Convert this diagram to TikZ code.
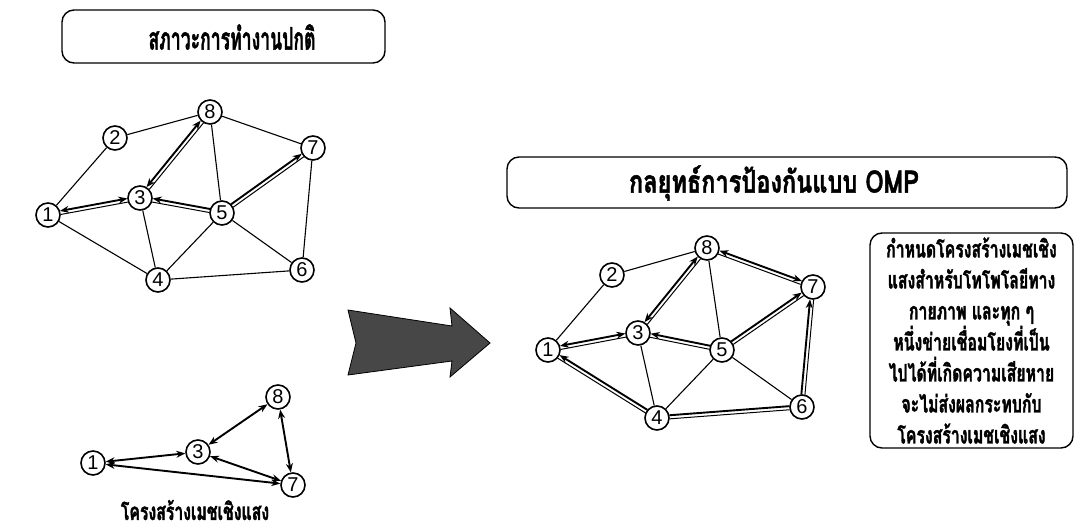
\documentclass[tikz,border=0pt]{standalone}
\usepackage{fontspec}
\setmainfont{Liberation Sans}
\newfontfamily\thai[Script=Thai,FakeBold=1.6]{Loma}
\newfontfamily\thain[Script=Thai,FakeStretch=0.66,FakeBold=1.4]{Loma}
\usetikzlibrary{arrows.meta,calc}
\newcommand\dedge[3][]{%
  \draw[line width=1.9pt,shorten <=12.5pt,shorten >=12.5pt,#1] ($(#2)!1.8pt!90:(#3)$) -- ($(#3)!1.8pt!-90:(#2)$);
  \draw[line width=1pt,shorten <=12.5pt,shorten >=12.5pt] ($(#2)!1.8pt!-90:(#3)$) -- ($(#3)!1.8pt!90:(#2)$);}
\begin{document}
\begin{tikzpicture}[x=1pt,y=-1pt,
  >={Stealth[length=9pt,width=7pt]},
  nd/.style={circle,draw,line width=1.6pt,fill=white,minimum size=24pt,inner sep=0pt,font=\fontsize{20}{20}\selectfont},
  ln/.style={line width=1.1pt},
  tk/.style={line width=1.9pt,<->},
  tbox/.style={draw,rounded corners=12pt,line width=1.4pt},
  ttl/.style={font=\thai\bfseries\fontsize{31}{32}\selectfont,inner sep=0pt},
  ttext/.style={font=\thain\bfseries\fontsize{24}{31}\selectfont,align=center}
]
\useasboundingbox[fill=white] (0,0) rectangle (1076,530);

% titles
\node[tbox,minimum width=323pt,minimum height=53pt] (t1) at (223.5,36.5) {};
\node[ttl] (t1t) at (232,37) {\resizebox{167pt}{\height}{สภาวะการทำงานปกติ}};
\node[tbox,minimum width=560pt,minimum height=51pt] (t2) at (787,182.5) {};
\node[ttl] (t2t) at (774,183) {\resizebox{290pt}{\height}{กลยุทธ์การป้องกันแบบ OMP}};
\node[tbox,minimum width=203pt,minimum height=215pt] (tb) at (971.5,340.5) {};
\node[ttext] (tbt) at (tb.center) {กำหนดโครงสร้างเมชเชิง\\แสงสำหรับโทโพโลยีทาง\\กายภาพ และทุก ๆ\\หนึ่งข่ายเชื่อมโยงที่เป็น\\ไปได้ที่เกิดความเสียหาย\\จะไม่ส่งผลกระทบกับ\\โครงสร้างเมชเชิงแสง};

% left graph
\node[nd] (L1) at (48,215) {1};
\node[nd] (L2) at (115,138) {2};
\node[nd] (L8) at (210,112) {8};
\node[nd] (L3) at (140,198) {3};
\node[nd] (L5) at (222,213) {5};
\node[nd] (L7) at (313,148) {7};
\node[nd] (L4) at (158,280) {4};
\node[nd] (L6) at (302,270) {6};
\draw[ln] (L1)--(L2) (L2)--(L8) (L8)--(L5) (L8)--(L7) (L7)--(L6) (L1)--(L4)
  (L3)--(L4) (L4)--(L5) (L4)--(L6) (L5)--(L6);
\dedge[<->]{L1}{L3}
\dedge[<->]{L3}{L8}
\dedge[<-]{L3}{L5}
\dedge[->]{L5}{L7}

% right graph
\node[nd] (R1) at (548,350) {1};
\node[nd] (R2) at (612,275) {2};
\node[nd] (R8) at (707,248) {8};
\node[nd] (R3) at (638,333) {3};
\node[nd] (R5) at (722,350) {5};
\node[nd] (R7) at (813,287) {7};
\node[nd] (R4) at (657,418) {4};
\node[nd] (R6) at (802,407) {6};
\draw[ln] (R1)--(R2) (R2)--(R8) (R8)--(R5) (R3)--(R4) (R4)--(R5) (R5)--(R6);
\dedge[<->]{R1}{R3}
\dedge[<->]{R3}{R8}
\dedge[<-]{R3}{R5}
\dedge[->]{R5}{R7}
\dedge[<->]{R8}{R7}
\dedge[<-]{R1}{R4}
\dedge{R4}{R6}
\dedge[->]{R6}{R7}

% bottom graph
\node[nd] (B1) at (93,463) {1};
\node[nd] (B3) at (198,452) {3};
\node[nd] (B8) at (278,397) {8};
\node[nd] (B7) at (293,485) {7};
\draw[tk] (B1)--(B3);
\draw[tk] (B3)--(B8);
\draw[tk] (B8)--(B7);
\draw[tk] (B3)--(B7);
\draw[tk] (B1)--(B7);
\node[ttext,inner sep=0pt] (cap) at (195,510) {โครงสร้างเมชเชิงแสง};

% big arrow
\filldraw[fill=black!72,draw=black,line width=0.8pt] (348,310) -- (452,326) -- (450,308) -- (490,343) -- (450,377) -- (452,361) -- (348,375) -- (356,343) -- cycle;
\end{tikzpicture}
\end{document}
